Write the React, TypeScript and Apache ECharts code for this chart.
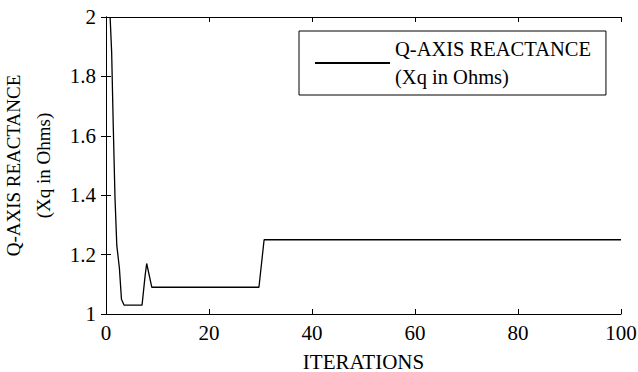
import React, { useEffect, useRef } from "react";
import * as echarts from "echarts";

const iterations = [0.8, 1.1, 1.4, 1.75, 2.1, 2.6, 3.0, 3.5, 7.0, 7.6, 7.9, 8.9, 29.7, 30.7, 100];
const reactance = [2.0, 1.88, 1.64, 1.39, 1.23, 1.155, 1.05, 1.03, 1.03, 1.13, 1.17, 1.09, 1.09, 1.25, 1.25];
const seriesName = "Q-AXIS REACTANCE\n(Xq in Ohms)";
const xTitle = "ITERATIONS";
const yTitle = "Q-AXIS REACTANCE\n(Xq in Ohms)";

const FONT = "'Liberation Serif', 'Times New Roman', serif";

export default function App() {
  const ref = useRef<HTMLDivElement>(null);
  useEffect(() => {
    document.body.style.margin = "0";
    if (!ref.current) return;
    const chart = echarts.init(ref.current, undefined, { renderer: "svg" });
    const axisCommon = {
      type: "value" as const,
      axisLine: { show: true, lineStyle: { color: "#000", width: 1 } },
      axisTick: { show: true, inside: true, length: 5, lineStyle: { color: "#000" } },
      splitLine: { show: false },
    };
    chart.setOption({
      animation: false,
      backgroundColor: "#fff",
      textStyle: { fontFamily: FONT, color: "#000" },
      grid: { left: 106, right: 17, top: 17, bottom: 58, containLabel: false, outerBoundsMode: "none" },
      xAxis: [
        {
          ...axisCommon,
          min: 0,
          max: 100,
          interval: 20,
          position: "bottom",
          name: xTitle,
          nameLocation: "middle",
          nameGap: 37,
          nameTextStyle: { fontFamily: FONT, fontSize: 21, color: "#000" },
          axisLabel: { fontFamily: FONT, fontSize: 21, color: "#000", margin: 8 },
        },
        {
          ...axisCommon,
          min: 0,
          max: 100,
          interval: 20,
          position: "top",
          axisLabel: { show: false },
        },
      ],
      yAxis: [
        {
          ...axisCommon,
          min: 1,
          max: 2,
          interval: 0.2,
          position: "left",
          name: yTitle,
          nameLocation: "middle",
          nameGap: 47,
          nameRotate: 90,
          nameTextStyle: { fontFamily: FONT, fontSize: 19, color: "#000", lineHeight: 30 },
          axisLabel: { fontFamily: FONT, fontSize: 21, color: "#000", margin: 10 },
        },
        {
          ...axisCommon,
          min: 1,
          max: 2,
          interval: 0.2,
          position: "right",
          axisLabel: { show: false },
        },
      ],
      legend: {
        left: 299,
        top: 31,
        orient: "vertical",
        backgroundColor: "#fff",
        borderColor: "#000",
        borderWidth: 1,
        borderRadius: 0,
        padding: [4, 15, 4, 16],
        itemWidth: 75,
        itemHeight: 2,
        icon: "rect",
        itemGap: 6,
        textStyle: { fontFamily: FONT, fontSize: 20.5, color: "#000", lineHeight: 28 },
        data: [{ name: seriesName, icon: "rect", itemStyle: { color: "#000" } }],
      },
      series: [
        {
          name: seriesName,
          type: "line",
          data: iterations.map((x, i) => [x, reactance[i]]),
          showSymbol: false,
          symbol: "none",
          lineStyle: { color: "#000", width: 1.3 },
          itemStyle: { color: "#000" },
          clip: true,
        },
      ],
    });
    return () => chart.dispose();
  }, []);
  return <div ref={ref} style={{ width: 638, height: 372 }} />;
}
